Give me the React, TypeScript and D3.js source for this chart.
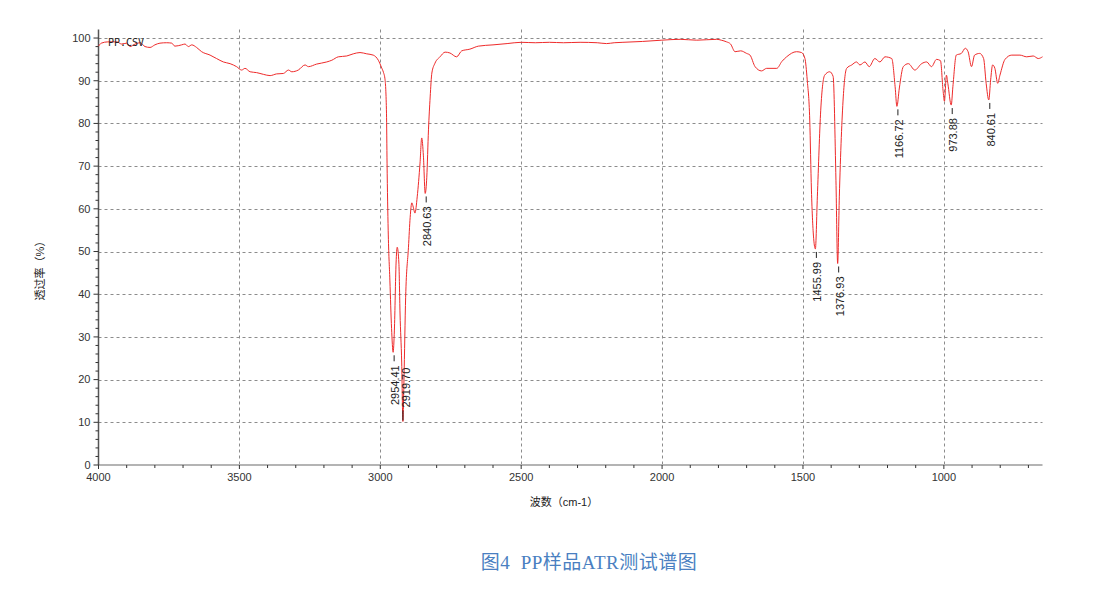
import React from "react";
import * as d3 from "d3";

// Spectrum: wavenumber (cm-1) and transmittance (%)
const wavenumbers = [
  4000, 3990, 3967, 3935, 3918, 3900, 3888, 3870, 3852, 3835, 3817, 3800, 3782, 3758, 3740, 3729, 3705, 3693, 3681, 3669,
  3652, 3634, 3604, 3581, 3557, 3533, 3510, 3492, 3480, 3462, 3439, 3415, 3391, 3368, 3344, 3326, 3314, 3291, 3267, 3255,
  3226, 3190, 3172, 3149, 3119, 3096, 3072, 3048, 3025, 3007, 2995, 2989, 2983, 2978, 2976, 2972, 2966, 2960, 2954.41, 2950,
  2944, 2940, 2934, 2930, 2924, 2919.7, 2916, 2910, 2900, 2894, 2888, 2883, 2877, 2869, 2859, 2853, 2847, 2840.63, 2835, 2829,
  2823, 2817, 2806, 2788, 2770, 2753, 2729, 2711, 2682, 2652, 2600, 2550, 2500, 2450, 2400, 2350, 2291, 2230, 2197, 2170,
  2139, 2070, 2001, 1936, 1877, 1806, 1790, 1771, 1757, 1741, 1721, 1700, 1688, 1670, 1647, 1629, 1593, 1575, 1558, 1523,
  1505, 1493, 1485, 1476, 1470, 1462, 1455.99, 1449, 1437, 1423, 1405, 1393, 1383, 1376.93, 1371, 1357, 1345, 1327, 1310, 1298,
  1280, 1265, 1245, 1227, 1209, 1185, 1173, 1166.72, 1158, 1144, 1126, 1103, 1079, 1061, 1044, 1026, 1012, 1003, 998, 991,
  986, 973.88, 968, 956, 938, 924, 914, 902, 891, 873, 859, 850, 840.61, 834, 827, 819, 809, 801, 783, 759,
  730, 706, 683, 665, 650,
];
const transmittance = [
  98.1, 98.8, 99.1, 99.1, 98.6, 98.8, 98.0, 98.6, 98.9, 98.0, 97.8, 98.4, 98.8, 98.9, 98.8, 98.1, 98.4, 98.6, 98.0, 98.4,
  97.8, 96.8, 96.0, 95.2, 94.4, 94.0, 93.3, 92.5, 92.9, 92.1, 91.9, 91.5, 91.2, 91.6, 91.7, 92.5, 92.1, 92.5, 93.7, 93.3,
  93.9, 94.4, 94.8, 95.6, 95.8, 96.3, 96.6, 96.3, 96.0, 94.8, 93.0, 92.0, 90.2, 82.4, 70.7, 55.0, 43.3, 32.0, 26.4, 31.6,
  47.3, 51.0, 47.3, 35.6, 23.9, 10.2, 19.9, 39.3, 51.0, 58.0, 61.4, 60.4, 59.0, 62.8, 70.7, 76.6, 72.4, 63.6, 67.4, 78.5,
  86.2, 91.8, 94.1, 95.6, 96.7, 96.5, 95.6, 97.0, 97.4, 98.1, 98.4, 98.7, 99.0, 98.9, 99.0, 98.9, 99.0, 98.9, 98.7, 98.9,
  99.0, 99.2, 99.5, 99.7, 99.5, 99.7, 99.5, 99.1, 98.6, 96.8, 97.0, 96.4, 96.0, 93.3, 92.3, 92.9, 92.9, 94.5, 95.6, 96.8,
  96.6, 95.2, 90.2, 80.8, 64.4, 53.0, 50.6, 62.8, 83.1, 91.3, 92.1, 91.0, 66.7, 47.2, 62.8, 86.2, 92.9, 93.7, 94.4, 93.7,
  94.4, 93.3, 95.2, 94.4, 95.6, 95.2, 88.6, 84.0, 88.3, 93.3, 94.0, 92.5, 94.0, 94.4, 93.3, 95.0, 94.7, 87.8, 85.2, 91.3,
  89.4, 84.3, 88.6, 96.0, 96.4, 97.6, 96.8, 93.3, 96.0, 96.4, 95.2, 89.4, 85.5, 90.2, 93.7, 92.9, 89.4, 91.3, 95.0, 96.0,
  96.0, 95.6, 95.8, 95.2, 95.6,
];

// Peak annotations
const peakWn = [2954.41, 2919.7, 2840.63, 1455.99, 1376.93, 1166.72, 973.88, 840.61];
const peakT = [26.4, 10.2, 63.6, 50.6, 47.2, 84.0, 84.3, 85.5];
const peakLabels = ["2954.41", "2919.70", "2840.63", "1455.99", "1376.93", "1166.72", "973.88", "840.61"];
const peakAbove = [false, true, false, false, false, false, false, false];

const xTicks = [4000, 3500, 3000, 2500, 2000, 1500, 1000];
const yTicks = [0, 10, 20, 30, 40, 50, 60, 70, 80, 90, 100];

const title = "图4  PP样品ATR测试谱图";
const xTitle = "波数（cm-1）";
const yTitle = "透过率（%）";
const fileName = "PP.CSV";

export default function App() {
  const x = d3.scaleLinear().domain([4000, 650]).range([98.5, 1042.5]);
  const y = d3.scaleLinear().domain([0, 102]).range([465, 29.5]);

  const pts: [number, number][] = wavenumbers.map((w, i) => [w, transmittance[i]]);
  const line = d3
    .line<[number, number]>()
    .x((d) => x(d[0]))
    .y((d) => y(d[1]))
    .curve(d3.curveMonotoneX);

  const minorX = d3.range(4000, 649, -100);
  const minorY = d3.range(0, 101, 2);
  const font = "'Liberation Sans', 'Noto Sans CJK SC', sans-serif";
  const [x0, x1] = x.range();
  const [yb, yt] = y.range();

  return (
    <svg
      width={1099}
      height={610}
      style={{ position: "absolute", left: 0, top: 0, background: "#fff" }}
    >
      {/* grid */}
      {yTicks
        .filter((t) => t > 0)
        .map((t) => (
          <line key={"gy" + t} x1={x0} x2={x1} y1={Math.round(y(t)) + 0.5} y2={Math.round(y(t)) + 0.5}
            stroke="#8c8c8c" strokeDasharray="3,3" strokeWidth={1} />
        ))}
      {xTicks
        .filter((t) => t !== 4000)
        .map((t) => (
          <line key={"gx" + t} x1={Math.round(x(t)) + 0.5} x2={Math.round(x(t)) + 0.5} y1={yt} y2={yb}
            stroke="#8c8c8c" strokeDasharray="3,3" strokeWidth={1} />
        ))}

      {/* axes */}
      <line x1={x0} x2={x1} y1={yb} y2={yb} stroke="#b4b4b4" strokeWidth={2} />
      <line x1={x0} x2={x0} y1={yt} y2={yb} stroke="#555" strokeWidth={1.5} />
      {minorY.map((t) => (
        <line key={"my" + t} x1={x0 - (t % 10 === 0 ? 5 : 3)} x2={x0} y1={y(t)} y2={y(t)} stroke="#333" strokeWidth={1} />
      ))}
      {minorX.map((t) => (
        <line key={"mx" + t} x1={x(t)} x2={x(t)} y1={yb} y2={yb + (t % 500 === 0 ? 4 : 3)} stroke="#333" strokeWidth={1} />
      ))}
      {yTicks.map((t) => (
        <text key={"ly" + t} x={x0 - 8} y={y(t)} dy="0.35em" textAnchor="end" fontFamily={font} fontSize={11} fill="#333">
          {t}
        </text>
      ))}
      {xTicks.map((t) => (
        <text key={"lx" + t} x={x(t)} y={yb + 12} dy="0.35em" textAnchor="middle" fontFamily={font} fontSize={11} fill="#333">
          {t}
        </text>
      ))}

      {/* spectrum */}
      <path d={line(pts) || ""} fill="none" stroke="#ee2a2a" strokeWidth={1} />

      {/* file name */}
      <text x={108} y={42} dy="0.35em" fontFamily="'DejaVu Sans Mono', monospace" fontSize={10} fill="#222">
        {fileName}
      </text>

      {/* peak labels */}
      {peakWn.map((w, i) => {
        const px = x(w);
        const py = y(peakT[i]);
        if (peakAbove[i]) {
          return (
            <g key={"pk" + i}>
              <line x1={px} x2={px} y1={py - 1} y2={py - 11} stroke="#222" strokeWidth={1} />
              <text transform={`translate(${px + 3},${py - 14}) rotate(-90)`} textAnchor="start" dy="0.35em"
                fontFamily={font} fontSize={11} fill="#222">
                {peakLabels[i]}
              </text>
            </g>
          );
        }
        return (
          <g key={"pk" + i}>
            <line x1={px + 1} x2={px + 1} y1={py + 3} y2={py + 9} stroke="#222" strokeWidth={1} />
            <text transform={`translate(${px + 2},${py + 13}) rotate(-90)`} textAnchor="end" dy="0.35em"
              fontFamily={font} fontSize={11} fill="#222">
              {peakLabels[i]}
            </text>
          </g>
        );
      })}

      {/* axis titles */}
      <text x={564} y={502} dy="0.35em" textAnchor="middle" fontFamily={font} fontSize={11} fill="#222">
        {xTitle}
      </text>
      <text transform="translate(40,268) rotate(-90)" dy="0.35em" textAnchor="middle" fontFamily={font} fontSize={11} fill="#222">
        {yTitle}
      </text>

      {/* figure caption */}
      <text x={589} y={562} dy="0.35em" textAnchor="middle" xmlSpace="preserve"
        fontFamily="'Liberation Serif', 'Noto Sans CJK SC', serif" fontSize={19} letterSpacing={0.5} fill="#4a7fc1">
        {title}
      </text>
    </svg>
  );
}
